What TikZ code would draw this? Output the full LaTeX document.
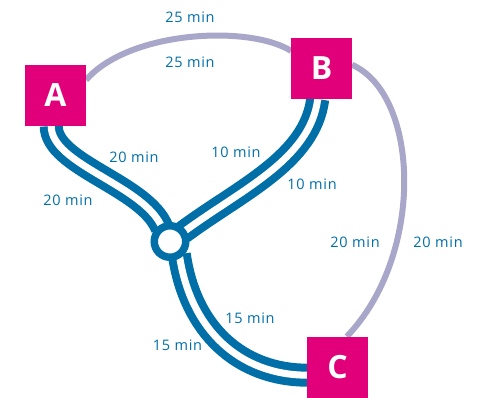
\documentclass[tikz,border=0pt]{standalone}
\usepackage{fontspec}
\setmainfont{Open Sans}
\newfontfamily\timefont[LetterSpace=5]{Open Sans}
\usetikzlibrary{backgrounds}
\definecolor{routeblue}{RGB}{0,111,167}
\definecolor{stopmag}{RGB}{226,0,122}
\definecolor{walklav}{RGB}{168,166,201}
\begin{document}
\begin{tikzpicture}[x=1pt,y=-1pt,
  stop/.style={fill=stopmag,text=white,minimum size=61pt,inner sep=0pt,outer sep=0pt,
    font=\bfseries\fontsize{32}{32}\selectfont},
  hubnode/.style={circle,draw=routeblue,line width=7.5pt,fill=white,minimum size=31.5pt,
    inner sep=0pt,outer sep=0pt},
  tram/.style={draw=routeblue,line width=8pt,double=white,double distance=7pt},
  walk/.style={draw=walklav,line width=6pt},
  lbl/.style={text=routeblue,font=\timefont\fontsize{14.5}{15}\selectfont,inner sep=0pt}]
\useasboundingbox (0,0) rectangle (492,398);

% stops and interchange
\node[stop] (A) at (55.5,95.5) {A};
\node[stop] (B) at (321.5,68.5) {B};
\node[stop] (C) at (337.5,367) {C};
\node[hubnode] (H) at (170,241.5) {};

% routes, drawn beneath the stops
\begin{scope}[on background layer]
  \draw[walk] (A.27) .. controls (130,30) and (250,25) .. (B.150);
  \draw[walk] (B.7) .. controls (420,95) and (425,255) .. (C.73);
  \draw[tram] (A.262) .. controls (51,165) and (145,185) .. (H.120);
  \draw[tram] (B.263) .. controls (310,160) and (240,190) .. (H.35);
  \draw[tram] (H.306) .. controls (190,330) and (240,375) .. (C.195);
\end{scope}

% travel times
\node[lbl] (tAB1) at (190,17) {25 min};
\node[lbl] (tAB2) at (190,62) {25 min};
\node[lbl] (tAH1) at (134,157) {20 min};
\node[lbl] (tAH2) at (68,200) {20 min};
\node[lbl] (tBH1) at (236,152) {10 min};
\node[lbl] (tBH2) at (312,184) {10 min};
\node[lbl] (tBC1) at (355,242.5) {20 min};
\node[lbl] (tBC2) at (438,242.5) {20 min};
\node[lbl] (tHC1) at (250,318) {15 min};
\node[lbl] (tHC2) at (177.5,345) {15 min};
\end{tikzpicture}
\end{document}
